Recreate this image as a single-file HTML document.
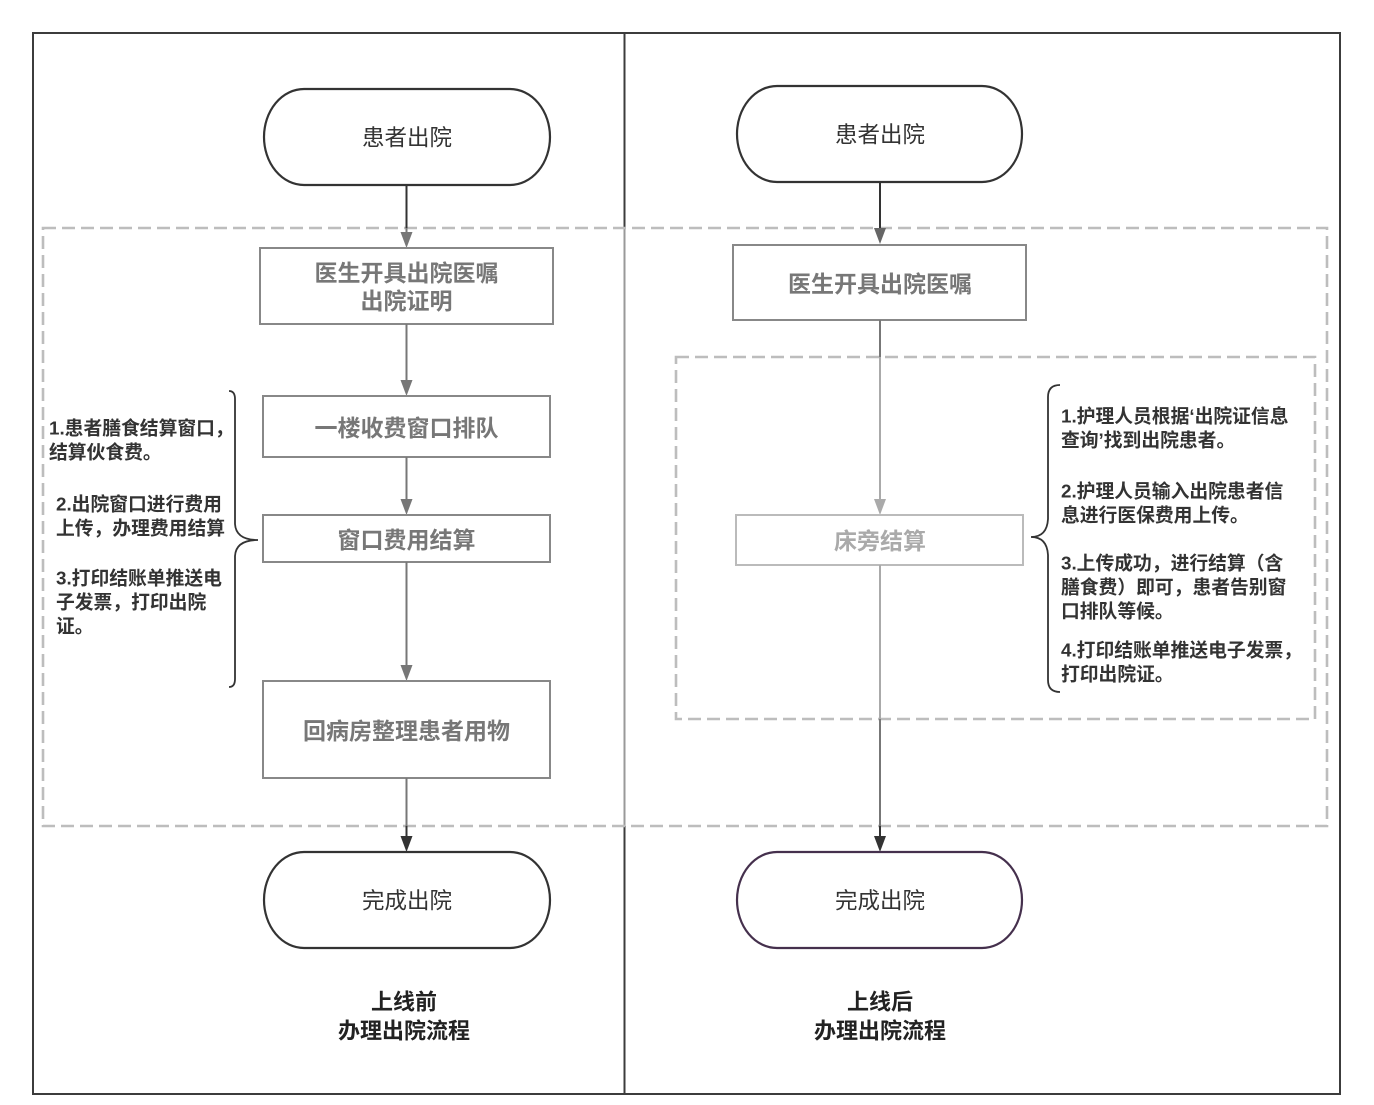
<!DOCTYPE html>
<html>
<head>
<meta charset="utf-8">
<style>
  html,body{margin:0;padding:0;background:#fff;}
  svg{display:block;}
  text{font-family:"Liberation Sans","Noto Sans CJK SC","WenQuanYi Zen Hei",sans-serif;}
  .term{font-size:22.5px;fill:#333;font-weight:400;}
  .box{font-size:23px;fill:#777;font-weight:700;}
  .note{font-size:18.8px;fill:#333;font-weight:700;}
  .cap{font-size:22px;fill:#222;font-weight:700;}
</style>
</head>
<body>
<svg width="1374" height="1105" viewBox="0 0 1374 1105" xmlns="http://www.w3.org/2000/svg">
  <rect x="0" y="0" width="1374" height="1105" fill="#fff"/>

  <!-- outer frame -->
  <rect x="33" y="33" width="1307" height="1061" fill="none" stroke="#3c3c3c" stroke-width="2"/>
  <!-- divider -->
  <line x1="624.5" y1="33" x2="624.5" y2="228" stroke="#3c3c3c" stroke-width="2"/>
  <line x1="624.5" y1="228" x2="624.5" y2="826" stroke="#999" stroke-width="2"/>
  <line x1="624.5" y1="826" x2="624.5" y2="1094" stroke="#3c3c3c" stroke-width="2"/>

  <!-- dashed regions -->
  <rect x="43" y="228" width="1284" height="598" fill="none" stroke="#bdbdbd" stroke-width="2.6" stroke-dasharray="13 6"/>
  <rect x="676" y="357" width="639" height="362" fill="none" stroke="#bdbdbd" stroke-width="2.6" stroke-dasharray="13 6"/>

  <!-- ===== LEFT COLUMN ===== -->
  <rect x="264" y="89" width="286" height="96" rx="40" ry="48" fill="#fff" stroke="#333" stroke-width="2.2"/>
  <text class="term" x="407" y="138" text-anchor="middle" dominant-baseline="central">患者出院</text>

  <line x1="406.5" y1="185" x2="406.5" y2="228" stroke="#333" stroke-width="2"/>
  <line x1="406.5" y1="228" x2="406.5" y2="234" stroke="#777" stroke-width="2"/>
  <polygon points="400.5,232 412.5,232 406.5,248" fill="#777"/>

  <rect x="260" y="248" width="293" height="76" fill="#fff" stroke="#888" stroke-width="2"/>
  <text class="box" x="406.5" y="273" text-anchor="middle" dominant-baseline="central">医生开具出院医嘱</text>
  <text class="box" x="406.5" y="301" text-anchor="middle" dominant-baseline="central">出院证明</text>

  <line x1="406.5" y1="324" x2="406.5" y2="382" stroke="#777" stroke-width="2"/>
  <polygon points="400.5,380 412.5,380 406.5,396" fill="#777"/>

  <rect x="263" y="396" width="287" height="61" fill="#fff" stroke="#888" stroke-width="2"/>
  <text class="box" x="406.5" y="428" text-anchor="middle" dominant-baseline="central">一楼收费窗口排队</text>

  <line x1="406.5" y1="457" x2="406.5" y2="501" stroke="#777" stroke-width="2"/>
  <polygon points="400.5,499 412.5,499 406.5,515" fill="#777"/>

  <rect x="263" y="515" width="287" height="47" fill="#fff" stroke="#888" stroke-width="2"/>
  <text class="box" x="406.5" y="540" text-anchor="middle" dominant-baseline="central">窗口费用结算</text>

  <line x1="406.5" y1="562" x2="406.5" y2="667" stroke="#777" stroke-width="2"/>
  <polygon points="400.5,665 412.5,665 406.5,681" fill="#777"/>

  <rect x="263" y="681" width="287" height="97" fill="#fff" stroke="#888" stroke-width="2"/>
  <text class="box" x="406.5" y="731" text-anchor="middle" dominant-baseline="central">回病房整理患者用物</text>

  <line x1="406.5" y1="778" x2="406.5" y2="826" stroke="#777" stroke-width="2"/>
  <line x1="406.5" y1="826" x2="406.5" y2="838" stroke="#333" stroke-width="2"/>
  <polygon points="400.5,836 412.5,836 406.5,852" fill="#333"/>

  <rect x="264" y="852" width="286" height="96" rx="40" ry="48" fill="#fff" stroke="#333" stroke-width="2.2"/>
  <text class="term" x="407" y="901" text-anchor="middle" dominant-baseline="central">完成出院</text>

  <!-- left brace } -->
  <path d="M229,391 Q235,391 235,399 L235,524 Q236,540 258,540 Q236,540 235,556 L235,679 Q235,687 229,687" fill="none" stroke="#333" stroke-width="1.8"/>

  <!-- left notes -->
  <text class="note" x="49" y="428" dominant-baseline="central">1.患者膳食结算窗口，</text>
  <text class="note" x="49" y="452" dominant-baseline="central">结算伙食费。</text>
  <text class="note" x="56" y="504" dominant-baseline="central">2.出院窗口进行费用</text>
  <text class="note" x="56" y="528" dominant-baseline="central">上传，办理费用结算</text>
  <text class="note" x="56" y="578" dominant-baseline="central">3.打印结账单推送电</text>
  <text class="note" x="56" y="602" dominant-baseline="central">子发票，打印出院</text>
  <text class="note" x="56" y="626" dominant-baseline="central">证。</text>

  <text class="cap" x="404" y="1002" text-anchor="middle" dominant-baseline="central">上线前</text>
  <text class="cap" x="404" y="1031" text-anchor="middle" dominant-baseline="central">办理出院流程</text>

  <!-- ===== RIGHT COLUMN ===== -->
  <rect x="737" y="86" width="285" height="96" rx="40" ry="48" fill="#fff" stroke="#333" stroke-width="2.2"/>
  <text class="term" x="880" y="135" text-anchor="middle" dominant-baseline="central">患者出院</text>

  <line x1="880" y1="182" x2="880" y2="228" stroke="#333" stroke-width="2"/>
  <polygon points="874,228 886,228 880,244" fill="#666"/>

  <rect x="733" y="245" width="293" height="75" fill="#fff" stroke="#888" stroke-width="2"/>
  <text class="box" x="880" y="284" text-anchor="middle" dominant-baseline="central">医生开具出院医嘱</text>

  <line x1="880" y1="320" x2="880" y2="357" stroke="#777" stroke-width="2"/>
  <line x1="880" y1="357" x2="880" y2="501" stroke="#aaa" stroke-width="2"/>
  <polygon points="874,499 886,499 880,515" fill="#aaa"/>

  <rect x="736" y="515" width="287" height="50" fill="#fff" stroke="#bbb" stroke-width="2"/>
  <text class="box" x="880" y="541" text-anchor="middle" dominant-baseline="central" style="fill:#aaa">床旁结算</text>

  <line x1="880" y1="565" x2="880" y2="719" stroke="#aaa" stroke-width="2"/>
  <line x1="880" y1="719" x2="880" y2="826" stroke="#777" stroke-width="2"/>
  <line x1="880" y1="826" x2="880" y2="838" stroke="#333" stroke-width="2"/>
  <polygon points="874,836 886,836 880,852" fill="#333"/>

  <rect x="737" y="852" width="285" height="96" rx="40" ry="48" fill="#fff" stroke="#45304d" stroke-width="2.2"/>
  <text class="term" x="880" y="901" text-anchor="middle" dominant-baseline="central">完成出院</text>

  <!-- right brace { -->
  <path d="M1060,385 Q1048,385 1048,397 L1048,519 Q1047,537 1031,537 Q1047,537 1048,555 L1048,680 Q1048,692 1060,692" fill="none" stroke="#333" stroke-width="1.8"/>

  <!-- right notes -->
  <text class="note" x="1061" y="416" dominant-baseline="central">1.护理人员根据‘出院证信息</text>
  <text class="note" x="1061" y="440" dominant-baseline="central">查询’找到出院患者。</text>
  <text class="note" x="1061" y="491" dominant-baseline="central">2.护理人员输入出院患者信</text>
  <text class="note" x="1061" y="515" dominant-baseline="central">息进行医保费用上传。</text>
  <text class="note" x="1061" y="563" dominant-baseline="central">3.上传成功，进行结算（含</text>
  <text class="note" x="1061" y="587" dominant-baseline="central">膳食费）即可，患者告别窗</text>
  <text class="note" x="1061" y="611" dominant-baseline="central">口排队等候。</text>
  <text class="note" x="1061" y="650" dominant-baseline="central">4.打印结账单推送电子发票，</text>
  <text class="note" x="1061" y="674" dominant-baseline="central">打印出院证。</text>

  <text class="cap" x="880" y="1002" text-anchor="middle" dominant-baseline="central">上线后</text>
  <text class="cap" x="880" y="1031" text-anchor="middle" dominant-baseline="central">办理出院流程</text>
</svg>
</body>
</html>
